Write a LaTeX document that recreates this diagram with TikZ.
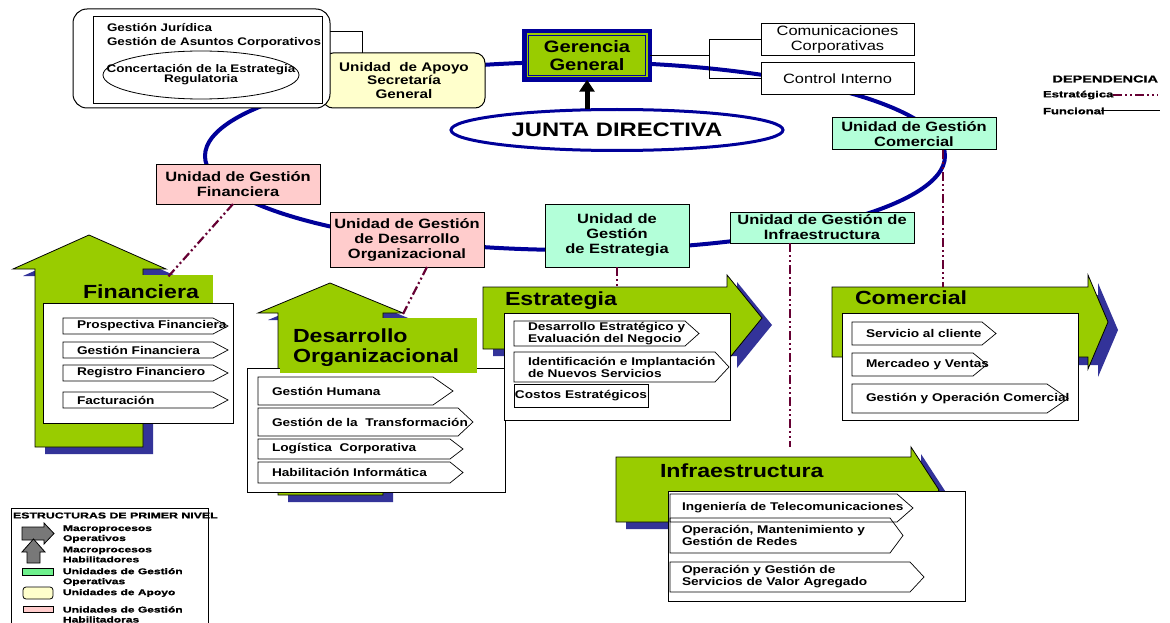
\documentclass[tikz,border=0pt]{standalone}
\usepackage{fontspec}
\setmainfont{Liberation Sans}[FakeStretch=1.22]
\newfontfamily\legfont{Liberation Sans}[FakeStretch=1.45,FakeBold=1.2]
\usetikzlibrary{shapes.geometric,arrows.meta}
\definecolor{navy}{RGB}{0,0,153}
\definecolor{ygreen}{RGB}{153,204,0}
\definecolor{shadowblue}{RGB}{51,51,153}
\definecolor{mint}{RGB}{179,255,217}
\definecolor{pinkbox}{RGB}{255,204,204}
\definecolor{creamy}{RGB}{255,255,204}
\definecolor{maroon}{RGB}{102,0,51}
\definecolor{legreen}{RGB}{110,240,140}
\definecolor{leggray}{RGB}{120,120,120}
\tikzset{
 orbit/.style={draw=navy, line width=4pt},
 unitbox/.style={draw=black, line width=1pt, align=center, font=\fontsize{13.5}{15}\selectfont\bfseries},
 opunit/.style={unitbox, fill=mint},
 enunit/.style={unitbox, fill=pinkbox},
 apoyobox/.style={unitbox, fill=creamy, rounded corners=10pt, font=\fontsize{12.5}{13.5}\selectfont\bfseries},
 plainbox/.style={draw=black, line width=1pt, fill=white, align=center, font=\fontsize{13.5}{15}\selectfont},
 func/.style={draw=black, line width=1pt},
 dep/.style={draw=maroon, line width=2.2pt, dash pattern=on 9pt off 3pt on 2pt off 3pt on 2pt off 3pt},
 greenarrow/.style={fill=ygreen, draw=black, line width=0.8pt},
 shadowarrow/.style={fill=shadowblue, draw=none},
 whitebox/.style={fill=white, draw=black, line width=0.8pt},
 chev/.style={draw=black, line width=0.7pt},
 itemtxt/.style={font=\fontsize{11.2}{12}\selectfont\bfseries, align=left},
 itembox/.style={itemtxt, draw=black, line width=0.7pt},
 smalltxt/.style={font=\fontsize{11}{10.5}\selectfont\bfseries, align=center},
 titletxt/.style={font=\fontsize{19}{20}\selectfont\bfseries, align=left},
 legtxt/.style={font=\legfont\fontsize{8.3}{10}\selectfont\bfseries, align=left},
 legsym/.style={draw=black, line width=0.8pt},
}
\newcommand\mychev[8]{%
  \draw[chev] (#2,#3) -- (#4,#3) -- (#6,{(#3+#5)/2}) -- (#4,#5) -- (#2,#5) -- cycle;
  \node[itemtxt, anchor=west] (#1) at (#7,{(#3+#5)/2}) {#8};}
\newcommand\myup[9]{\path[#1] (#2,#4) -- (#2,#5) -- (#6,#5) -- (#8,#9) -- (#7,#5) -- (#3,#5) -- (#3,#4) -- cycle;}
\newcommand\myright[9]{\path[#1] (#2,#3) -- (#5,#3) -- (#5,#6) -- (#8,#9) -- (#5,#7) -- (#5,#4) -- (#2,#4) -- cycle;}
\begin{document}
\begin{tikzpicture}[x=1pt,y=-1pt, every node/.style={inner sep=0pt,outer sep=0pt}]
\useasboundingbox[fill=white] (0,0) rectangle (1170,623);

% ---- orbit
\draw[orbit] (575,156) ellipse [x radius=370, y radius=94];

% ---- top left group
\node[apoyobox, minimum width=162pt, minimum height=55pt] (apoyo) at (404,80.5) {Unidad\ \ de Apoyo\\Secretaría\\General};
\node[draw, rounded corners=14pt, fill=white, line width=1pt, minimum width=257pt, minimum height=99pt] (jur) at (201.5,58.5) {};
\node[draw, line width=0.8pt, minimum width=229pt, minimum height=87pt] (jurin) at (207.5,59.5) {};
\node[smalltxt, anchor=base west] (gj) at (107,31.5) {Gestión Jurídica};
\node[smalltxt, anchor=base west] (ga) at (107,45.5) {Gestión de Asuntos Corporativos};
\node[ellipse, draw, line width=0.8pt, minimum width=196pt, minimum height=48pt] (conc) at (201,75) {};
\node[smalltxt] (conctxt) at (201,74.5) {Concertación de la Estrategia\\Regulatoria};
\coordinate (jc) at (362,32);
\draw[func] (jur.north east |- jc) -- (jc) -- (apoyo.north -| jc);

% ---- Gerencia, Junta
\node[draw=navy, line width=4.5pt, fill=ygreen, minimum width=125.5pt, minimum height=48.5pt,
      align=center, font=\fontsize{16.5}{18.5}\selectfont\bfseries] (ger) at (587,55.5) {Gerencia\\General};
\draw[navy, line width=0.8pt] ([shift={(4,-4)}]ger.south west) rectangle ([shift={(-4,4)}]ger.north east);
\node[ellipse, draw=navy, line width=3pt, fill=white, minimum width=332pt, minimum height=41pt,
      font=\fontsize{19.5}{20}\selectfont\bfseries] (junta) at (617,130) {JUNTA DIRECTIVA};
\draw[line width=5pt, -{Triangle[width=15pt,length=12pt]}] (ger.south |- junta.north) -- (ger.south);

\node[plainbox, minimum width=153pt, minimum height=32pt] (com) at (837.5,40) {Comunicaciones\\Corporativas};
\node[plainbox, minimum width=153pt, minimum height=32pt] (ctl) at (837.5,79) {Control Interno};
\coordinate (br) at (709,55.5);
\draw[func] (ger.east) -- (br);
\draw[func] (com.west) -| (br);
\draw[func] (ctl.west) -| (br);

% ---- unit boxes
\node[opunit, minimum width=164pt, minimum height=32pt] (uc) at (914,134) {Unidad de Gestión\\Comercial};
\node[enunit, minimum width=164pt, minimum height=39pt] (uf) at (238,184.5) {Unidad de Gestión\\Financiera};
\node[enunit, minimum width=154pt, minimum height=55pt] (ud) at (407,239.5) {Unidad de Gestión\\de Desarrollo\\Organizacional};
\node[opunit, minimum width=144pt, minimum height=63pt] (ue) at (617,235.5) {Unidad de\\Gestión\\de Estrategia};
\node[opunit, minimum width=184pt, minimum height=31pt] (ui) at (822,227.5) {Unidad de Gestión de\\Infraestructura};

% ---- Financiera
\myup{shadowarrow,shift={(10,7)}}{35}{143}{447}{269}{13}{166}{89}{235}
\myup{greenarrow}{35}{143}{447}{269}{13}{166}{89}{235}
\node[whitebox, minimum width=190pt, minimum height=120pt] (fbox) at (138,363) {};
\fill[ygreen] (140,275) rectangle (213,302.5);
\node[titletxt, anchor=west] (ftit) at (83,291.5) {Financiera};
\mychev{fi1}{63}{318}{213}{334}{228}{77}{Prospectiva Financiera}
\mychev{fi2}{63}{342}{213}{358}{228}{77}{Gestión Financiera}
\mychev{fi3}{63}{365}{213}{381}{228}{77}{Registro Financiero}
\mychev{fi4}{63}{392}{213}{408}{228}{77}{Facturación}

% ---- Desarrollo
\myup{shadowarrow,shift={(10,7)}}{278}{383}{495}{313}{258}{403}{330}{283}
\myup{greenarrow}{278}{383}{495}{313}{258}{403}{330}{283}
\node[whitebox, minimum width=258pt, minimum height=124pt] (dbox) at (376,430) {};
\fill[ygreen] (280,318) rectangle (477,373);
\node[titletxt, anchor=west] (dtit) at (293,348) {Desarrollo\\Organizacional};
\mychev{de1}{258}{377}{433}{405}{453}{272}{Gestión Humana}
\mychev{de2}{258}{408}{458}{436}{473}{272}{Gestión de la\ \ Transformación}
\mychev{de3}{258}{439}{450}{459}{463}{272}{Logística\ \ Corporativa}
\mychev{de4}{258}{462}{450}{483}{463}{272}{Habilitación Informática}

% ---- Estrategia
\myright{shadowarrow,shift={(10,7)}}{483}{287}{349}{727}{275}{361}{762}{318}
\myright{greenarrow}{483}{287}{349}{727}{275}{361}{762}{318}
\node[titletxt, anchor=west] (etit) at (505,301) {Estrategia};
\node[whitebox, minimum width=226pt, minimum height=107pt] (ebox) at (617,366.5) {};
\mychev{es1}{514}{321}{685}{346}{699}{528}{Desarrollo Estratégico y\\Evaluación del Negocio}
\mychev{es2}{514}{352}{715}{382}{729}{528}{Identificación e Implantación\\de Nuevos Servicios}
\node[itembox, minimum width=134pt, minimum height=23pt] (es3) at (581,395.5) {Costos Estratégicos};

% ---- Comercial
\myright{shadowarrow,shift={(10,8)}}{832}{287}{357}{1088}{275}{369}{1108}{322}
\myright{greenarrow}{832}{287}{357}{1088}{275}{369}{1108}{322}
\node[titletxt, anchor=west] (ctit) at (855,298) {Comercial};
\node[whitebox, minimum width=236pt, minimum height=107pt] (cbox) at (960,366.5) {};
\mychev{co1}{852}{322}{982}{345}{996}{866}{Servicio al cliente}
\mychev{co2}{852}{353}{973}{376}{987}{866}{Mercadeo y Ventas}
\mychev{co3}{852}{384}{1047}{413}{1068}{866}{Gestión y Operación Comercial}

% ---- Infraestructura
\myright{shadowarrow,shift={(10,7)}}{616}{457}{522}{911}{447}{533}{939}{490}
\myright{greenarrow}{616}{457}{522}{911}{447}{533}{939}{490}
\node[titletxt, anchor=west] (itit) at (660,471) {Infraestructura};
\node[whitebox, minimum width=297pt, minimum height=110pt] (ibox) at (816.5,546) {};
\mychev{in1}{670}{494}{897}{522}{913}{682}{Ingeniería de Telecomunicaciones}
\mychev{in2}{670}{518}{890}{553}{903}{682}{Operación, Mantenimiento y\\Gestión de Redes}
\mychev{in3}{670}{562}{910}{592}{924}{682}{Operación y Gestión de\\Servicios de Valor Agregado}

% ---- strategic dependencies
\coordinate (fa) at (167,278);
\draw[dep] ([xshift=-5pt]uf.south) -- (fa);
\coordinate (da) at (403,314);
\draw[dep] ([xshift=20pt]ud.south) -- (da);
\coordinate (ea) at (617,287);
\draw[dep] (ue.south) -- (ea);
\coordinate (ia) at (790,447);
\draw[dep] (ui.south -| ia) -- (ia);
\coordinate (ca) at (943,287);
\draw[dep] (uc.south -| ca) -- (ca);

% ---- legend top right
\node[legtxt, font=\legfont\fontsize{10}{10}\selectfont\bfseries, anchor=east] (ldep) at (1158,79) {DEPENDENCIA};
\node[legtxt, font=\legfont\fontsize{9}{10}\selectfont\bfseries, anchor=west] (lest) at (1043,95) {Estratégica};
\coordinate (le1) at (1158,95);
\draw[dep, line width=1.6pt] (lest.east) -- (le1);
\node[legtxt, font=\legfont\fontsize{9}{10}\selectfont\bfseries, anchor=west] (lfun) at (1043,111) {Funcional};
\coordinate (lf1) at (1160,111);
\draw[func] ([xshift=-4pt]lfun.east) -- (lf1);

% ---- legend bottom left
\draw[line width=1pt] (11,640) -- (11,508) -- (208,508) -- (208,640);
\node[legtxt, font=\legfont\fontsize{8.5}{10}\selectfont\bfseries, anchor=west] (ltit) at (13,515.5) {ESTRUCTURAS DE PRIMER NIVEL};
\myright{legsym, fill=leggray}{22}{527}{540}{44}{523}{544}{54}{533.5}
\myup{legsym, fill=leggray}{27}{40}{563}{552}{22}{45}{33.5}{539}
\node[legsym, fill=legreen, minimum width=31pt, minimum height=7pt] (lg) at (37.5,571.5) {};
\node[legsym, fill=creamy, rounded corners=3pt, minimum width=30pt, minimum height=12pt] (ly) at (38,593) {};
\node[legsym, fill=pinkbox, minimum width=30pt, minimum height=6pt] (lp) at (38,609) {};
\node[legtxt, anchor=west] (lt1) at (63,534) {Macroprocesos\\Operativos};
\node[legtxt, anchor=west] (lt2) at (63,554.5) {Macroprocesos\\Habilitadores};
\node[legtxt, anchor=west] (lt3) at (63,577) {Unidades de Gestión\\Operativas};
\node[legtxt, anchor=west] (lt4) at (63,593) {Unidades de Apoyo};
\node[legtxt, anchor=west] (lt5) at (63,614.5) {Unidades de Gestión\\Habilitadoras};
\end{tikzpicture}
\end{document}
